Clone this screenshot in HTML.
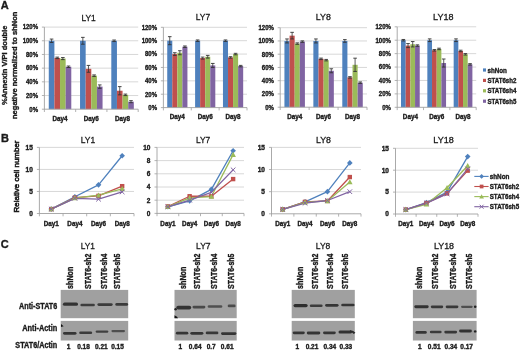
<!DOCTYPE html>
<html><head><meta charset="utf-8"><style>
html,body{margin:0;padding:0;background:#fff;}
svg{display:block;}
text{font-family:"Liberation Sans",sans-serif;fill:#1a1a1a;}
text{stroke:#1a1a1a;stroke-width:0.3px;}
text[font-weight=bold]{stroke-width:0.35px;}
svg{will-change:transform;filter:blur(0.3px);}
</style></head><body>
<svg width="520" height="351" viewBox="0 0 520 351">
<defs><filter id="bl" x="-20%" y="-80%" width="140%" height="260%"><feGaussianBlur stdDeviation="0.55"/></filter></defs>
<rect width="520" height="351" fill="#fff"/>
<line x1="44.40" y1="95.52" x2="138.20" y2="95.52" stroke="#d4d4d4" stroke-width="0.9"/>
<line x1="44.40" y1="81.83" x2="138.20" y2="81.83" stroke="#d4d4d4" stroke-width="0.9"/>
<line x1="44.40" y1="68.15" x2="138.20" y2="68.15" stroke="#d4d4d4" stroke-width="0.9"/>
<line x1="44.40" y1="54.47" x2="138.20" y2="54.47" stroke="#d4d4d4" stroke-width="0.9"/>
<line x1="44.40" y1="40.78" x2="138.20" y2="40.78" stroke="#d4d4d4" stroke-width="0.9"/>
<line x1="44.40" y1="27.10" x2="138.20" y2="27.10" stroke="#d4d4d4" stroke-width="0.9"/>
<line x1="41.90" y1="109.20" x2="44.40" y2="109.20" stroke="#a0a0a0" stroke-width="0.8"/>
<text x="38.10" y="111.50" font-size="6.5" text-anchor="end" font-weight="bold" textLength="8.74" lengthAdjust="spacingAndGlyphs">0%</text>
<line x1="41.90" y1="95.52" x2="44.40" y2="95.52" stroke="#a0a0a0" stroke-width="0.8"/>
<text x="38.10" y="97.82" font-size="6.5" text-anchor="end" font-weight="bold" textLength="12.10" lengthAdjust="spacingAndGlyphs">20%</text>
<line x1="41.90" y1="81.83" x2="44.40" y2="81.83" stroke="#a0a0a0" stroke-width="0.8"/>
<text x="38.10" y="84.13" font-size="6.5" text-anchor="end" font-weight="bold" textLength="12.10" lengthAdjust="spacingAndGlyphs">40%</text>
<line x1="41.90" y1="68.15" x2="44.40" y2="68.15" stroke="#a0a0a0" stroke-width="0.8"/>
<text x="38.10" y="70.45" font-size="6.5" text-anchor="end" font-weight="bold" textLength="12.10" lengthAdjust="spacingAndGlyphs">60%</text>
<line x1="41.90" y1="54.47" x2="44.40" y2="54.47" stroke="#a0a0a0" stroke-width="0.8"/>
<text x="38.10" y="56.77" font-size="6.5" text-anchor="end" font-weight="bold" textLength="12.10" lengthAdjust="spacingAndGlyphs">80%</text>
<line x1="41.90" y1="40.78" x2="44.40" y2="40.78" stroke="#a0a0a0" stroke-width="0.8"/>
<text x="38.10" y="43.08" font-size="6.5" text-anchor="end" font-weight="bold" textLength="15.46" lengthAdjust="spacingAndGlyphs">100%</text>
<line x1="41.90" y1="27.10" x2="44.40" y2="27.10" stroke="#a0a0a0" stroke-width="0.8"/>
<text x="38.10" y="29.40" font-size="6.5" text-anchor="end" font-weight="bold" textLength="15.46" lengthAdjust="spacingAndGlyphs">120%</text>
<rect x="48.77" y="40.78" width="5.63" height="68.42" fill="#4F81BD"/>
<rect x="54.40" y="57.89" width="5.63" height="51.31" fill="#C0504D"/>
<rect x="60.03" y="58.57" width="5.63" height="50.63" fill="#9BBB59"/>
<rect x="65.66" y="66.78" width="5.63" height="42.42" fill="#8064A2"/>
<rect x="80.04" y="40.78" width="5.63" height="68.42" fill="#4F81BD"/>
<rect x="85.67" y="68.83" width="5.63" height="40.37" fill="#C0504D"/>
<rect x="91.30" y="75.68" width="5.63" height="33.52" fill="#9BBB59"/>
<rect x="96.93" y="86.62" width="5.63" height="22.58" fill="#8064A2"/>
<rect x="111.31" y="40.78" width="5.63" height="68.42" fill="#4F81BD"/>
<rect x="116.94" y="90.73" width="5.63" height="18.47" fill="#C0504D"/>
<rect x="122.57" y="94.83" width="5.63" height="14.37" fill="#9BBB59"/>
<rect x="128.20" y="101.67" width="5.63" height="7.53" fill="#8064A2"/>
<line x1="51.59" y1="39.07" x2="51.59" y2="42.49" stroke="#333" stroke-width="0.8"/>
<line x1="49.79" y1="39.07" x2="53.39" y2="39.07" stroke="#333" stroke-width="0.9"/>
<line x1="49.79" y1="42.49" x2="53.39" y2="42.49" stroke="#333" stroke-width="0.9"/>
<line x1="57.22" y1="57.13" x2="57.22" y2="58.64" stroke="#333" stroke-width="0.8"/>
<line x1="55.42" y1="57.13" x2="59.02" y2="57.13" stroke="#333" stroke-width="0.9"/>
<line x1="55.42" y1="58.64" x2="59.02" y2="58.64" stroke="#333" stroke-width="0.9"/>
<line x1="62.85" y1="57.55" x2="62.85" y2="59.60" stroke="#333" stroke-width="0.8"/>
<line x1="61.05" y1="57.55" x2="64.65" y2="57.55" stroke="#333" stroke-width="0.9"/>
<line x1="61.05" y1="59.60" x2="64.65" y2="59.60" stroke="#333" stroke-width="0.9"/>
<line x1="68.48" y1="66.03" x2="68.48" y2="67.53" stroke="#333" stroke-width="0.8"/>
<line x1="66.68" y1="66.03" x2="70.28" y2="66.03" stroke="#333" stroke-width="0.9"/>
<line x1="66.68" y1="67.53" x2="70.28" y2="67.53" stroke="#333" stroke-width="0.9"/>
<line x1="82.85" y1="37.36" x2="82.85" y2="44.20" stroke="#333" stroke-width="0.8"/>
<line x1="81.05" y1="37.36" x2="84.65" y2="37.36" stroke="#333" stroke-width="0.9"/>
<line x1="81.05" y1="44.20" x2="84.65" y2="44.20" stroke="#333" stroke-width="0.9"/>
<line x1="88.48" y1="65.41" x2="88.48" y2="72.26" stroke="#333" stroke-width="0.8"/>
<line x1="86.68" y1="65.41" x2="90.28" y2="65.41" stroke="#333" stroke-width="0.9"/>
<line x1="86.68" y1="72.26" x2="90.28" y2="72.26" stroke="#333" stroke-width="0.9"/>
<line x1="94.11" y1="74.92" x2="94.11" y2="76.43" stroke="#333" stroke-width="0.8"/>
<line x1="92.31" y1="74.92" x2="95.91" y2="74.92" stroke="#333" stroke-width="0.9"/>
<line x1="92.31" y1="76.43" x2="95.91" y2="76.43" stroke="#333" stroke-width="0.9"/>
<line x1="99.74" y1="84.91" x2="99.74" y2="88.33" stroke="#333" stroke-width="0.8"/>
<line x1="97.94" y1="84.91" x2="101.54" y2="84.91" stroke="#333" stroke-width="0.9"/>
<line x1="97.94" y1="88.33" x2="101.54" y2="88.33" stroke="#333" stroke-width="0.9"/>
<line x1="114.12" y1="40.03" x2="114.12" y2="41.54" stroke="#333" stroke-width="0.8"/>
<line x1="112.32" y1="40.03" x2="115.92" y2="40.03" stroke="#333" stroke-width="0.9"/>
<line x1="112.32" y1="41.54" x2="115.92" y2="41.54" stroke="#333" stroke-width="0.9"/>
<line x1="119.75" y1="86.62" x2="119.75" y2="94.83" stroke="#333" stroke-width="0.8"/>
<line x1="117.95" y1="86.62" x2="121.55" y2="86.62" stroke="#333" stroke-width="0.9"/>
<line x1="117.95" y1="94.83" x2="121.55" y2="94.83" stroke="#333" stroke-width="0.9"/>
<line x1="125.38" y1="94.08" x2="125.38" y2="95.59" stroke="#333" stroke-width="0.8"/>
<line x1="123.58" y1="94.08" x2="127.18" y2="94.08" stroke="#333" stroke-width="0.9"/>
<line x1="123.58" y1="95.59" x2="127.18" y2="95.59" stroke="#333" stroke-width="0.9"/>
<line x1="131.01" y1="100.65" x2="131.01" y2="102.70" stroke="#333" stroke-width="0.8"/>
<line x1="129.21" y1="100.65" x2="132.81" y2="100.65" stroke="#333" stroke-width="0.9"/>
<line x1="129.21" y1="102.70" x2="132.81" y2="102.70" stroke="#333" stroke-width="0.9"/>
<line x1="44.40" y1="27.10" x2="44.40" y2="109.60" stroke="#a0a0a0" stroke-width="0.9"/>
<line x1="44.40" y1="109.20" x2="138.20" y2="109.20" stroke="#a0a0a0" stroke-width="0.9"/>
<line x1="44.40" y1="109.20" x2="44.40" y2="112.00" stroke="#a0a0a0" stroke-width="0.8"/>
<line x1="75.67" y1="109.20" x2="75.67" y2="112.00" stroke="#a0a0a0" stroke-width="0.8"/>
<line x1="106.93" y1="109.20" x2="106.93" y2="112.00" stroke="#a0a0a0" stroke-width="0.8"/>
<line x1="138.20" y1="109.20" x2="138.20" y2="112.00" stroke="#a0a0a0" stroke-width="0.8"/>
<text x="60.03" y="121.00" font-size="6.3" text-anchor="middle" font-weight="bold">Day4</text>
<text x="91.30" y="121.00" font-size="6.3" text-anchor="middle" font-weight="bold">Day6</text>
<text x="122.57" y="121.00" font-size="6.3" text-anchor="middle" font-weight="bold">Day8</text>
<text x="88.60" y="20.70" font-size="9.5" text-anchor="middle" textLength="14.40" lengthAdjust="spacingAndGlyphs">LY1</text>
<line x1="163.40" y1="94.22" x2="247.00" y2="94.22" stroke="#d4d4d4" stroke-width="0.9"/>
<line x1="163.40" y1="80.83" x2="247.00" y2="80.83" stroke="#d4d4d4" stroke-width="0.9"/>
<line x1="163.40" y1="67.45" x2="247.00" y2="67.45" stroke="#d4d4d4" stroke-width="0.9"/>
<line x1="163.40" y1="54.07" x2="247.00" y2="54.07" stroke="#d4d4d4" stroke-width="0.9"/>
<line x1="163.40" y1="40.68" x2="247.00" y2="40.68" stroke="#d4d4d4" stroke-width="0.9"/>
<line x1="163.40" y1="27.30" x2="247.00" y2="27.30" stroke="#d4d4d4" stroke-width="0.9"/>
<line x1="160.90" y1="107.60" x2="163.40" y2="107.60" stroke="#a0a0a0" stroke-width="0.8"/>
<text x="157.10" y="109.90" font-size="6.5" text-anchor="end" font-weight="bold" textLength="8.74" lengthAdjust="spacingAndGlyphs">0%</text>
<line x1="160.90" y1="94.22" x2="163.40" y2="94.22" stroke="#a0a0a0" stroke-width="0.8"/>
<text x="157.10" y="96.52" font-size="6.5" text-anchor="end" font-weight="bold" textLength="12.10" lengthAdjust="spacingAndGlyphs">20%</text>
<line x1="160.90" y1="80.83" x2="163.40" y2="80.83" stroke="#a0a0a0" stroke-width="0.8"/>
<text x="157.10" y="83.13" font-size="6.5" text-anchor="end" font-weight="bold" textLength="12.10" lengthAdjust="spacingAndGlyphs">40%</text>
<line x1="160.90" y1="67.45" x2="163.40" y2="67.45" stroke="#a0a0a0" stroke-width="0.8"/>
<text x="157.10" y="69.75" font-size="6.5" text-anchor="end" font-weight="bold" textLength="12.10" lengthAdjust="spacingAndGlyphs">60%</text>
<line x1="160.90" y1="54.07" x2="163.40" y2="54.07" stroke="#a0a0a0" stroke-width="0.8"/>
<text x="157.10" y="56.37" font-size="6.5" text-anchor="end" font-weight="bold" textLength="12.10" lengthAdjust="spacingAndGlyphs">80%</text>
<line x1="160.90" y1="40.68" x2="163.40" y2="40.68" stroke="#a0a0a0" stroke-width="0.8"/>
<text x="157.10" y="42.98" font-size="6.5" text-anchor="end" font-weight="bold" textLength="15.46" lengthAdjust="spacingAndGlyphs">100%</text>
<line x1="160.90" y1="27.30" x2="163.40" y2="27.30" stroke="#a0a0a0" stroke-width="0.8"/>
<text x="157.10" y="29.60" font-size="6.5" text-anchor="end" font-weight="bold" textLength="15.46" lengthAdjust="spacingAndGlyphs">120%</text>
<rect x="167.23" y="40.68" width="5.05" height="66.92" fill="#4F81BD"/>
<rect x="172.28" y="54.07" width="5.05" height="53.53" fill="#C0504D"/>
<rect x="177.33" y="52.73" width="5.05" height="54.87" fill="#9BBB59"/>
<rect x="182.38" y="46.71" width="5.05" height="60.89" fill="#8064A2"/>
<rect x="195.10" y="40.68" width="5.05" height="66.92" fill="#4F81BD"/>
<rect x="200.15" y="58.08" width="5.05" height="49.52" fill="#C0504D"/>
<rect x="205.20" y="56.74" width="5.05" height="50.86" fill="#9BBB59"/>
<rect x="210.25" y="65.44" width="5.05" height="42.16" fill="#8064A2"/>
<rect x="222.97" y="40.68" width="5.05" height="66.92" fill="#4F81BD"/>
<rect x="228.02" y="57.41" width="5.05" height="50.19" fill="#C0504D"/>
<rect x="233.07" y="54.07" width="5.05" height="53.53" fill="#9BBB59"/>
<rect x="238.12" y="66.11" width="5.05" height="41.49" fill="#8064A2"/>
<line x1="169.76" y1="36.67" x2="169.76" y2="44.70" stroke="#333" stroke-width="0.8"/>
<line x1="167.96" y1="36.67" x2="171.56" y2="36.67" stroke="#333" stroke-width="0.9"/>
<line x1="167.96" y1="44.70" x2="171.56" y2="44.70" stroke="#333" stroke-width="0.9"/>
<line x1="174.81" y1="52.73" x2="174.81" y2="55.40" stroke="#333" stroke-width="0.8"/>
<line x1="173.01" y1="52.73" x2="176.61" y2="52.73" stroke="#333" stroke-width="0.9"/>
<line x1="173.01" y1="55.40" x2="176.61" y2="55.40" stroke="#333" stroke-width="0.9"/>
<line x1="179.86" y1="50.72" x2="179.86" y2="54.74" stroke="#333" stroke-width="0.8"/>
<line x1="178.06" y1="50.72" x2="181.66" y2="50.72" stroke="#333" stroke-width="0.9"/>
<line x1="178.06" y1="54.74" x2="181.66" y2="54.74" stroke="#333" stroke-width="0.9"/>
<line x1="184.91" y1="45.97" x2="184.91" y2="47.44" stroke="#333" stroke-width="0.8"/>
<line x1="183.11" y1="45.97" x2="186.71" y2="45.97" stroke="#333" stroke-width="0.9"/>
<line x1="183.11" y1="47.44" x2="186.71" y2="47.44" stroke="#333" stroke-width="0.9"/>
<line x1="197.63" y1="39.95" x2="197.63" y2="41.42" stroke="#333" stroke-width="0.8"/>
<line x1="195.83" y1="39.95" x2="199.43" y2="39.95" stroke="#333" stroke-width="0.9"/>
<line x1="195.83" y1="41.42" x2="199.43" y2="41.42" stroke="#333" stroke-width="0.9"/>
<line x1="202.68" y1="57.08" x2="202.68" y2="59.09" stroke="#333" stroke-width="0.8"/>
<line x1="200.88" y1="57.08" x2="204.48" y2="57.08" stroke="#333" stroke-width="0.9"/>
<line x1="200.88" y1="59.09" x2="204.48" y2="59.09" stroke="#333" stroke-width="0.9"/>
<line x1="207.73" y1="55.40" x2="207.73" y2="58.08" stroke="#333" stroke-width="0.8"/>
<line x1="205.93" y1="55.40" x2="209.53" y2="55.40" stroke="#333" stroke-width="0.9"/>
<line x1="205.93" y1="58.08" x2="209.53" y2="58.08" stroke="#333" stroke-width="0.9"/>
<line x1="212.78" y1="63.43" x2="212.78" y2="67.45" stroke="#333" stroke-width="0.8"/>
<line x1="210.98" y1="63.43" x2="214.58" y2="63.43" stroke="#333" stroke-width="0.9"/>
<line x1="210.98" y1="67.45" x2="214.58" y2="67.45" stroke="#333" stroke-width="0.9"/>
<line x1="225.49" y1="39.95" x2="225.49" y2="41.42" stroke="#333" stroke-width="0.8"/>
<line x1="223.69" y1="39.95" x2="227.29" y2="39.95" stroke="#333" stroke-width="0.9"/>
<line x1="223.69" y1="41.42" x2="227.29" y2="41.42" stroke="#333" stroke-width="0.9"/>
<line x1="230.54" y1="56.68" x2="230.54" y2="58.15" stroke="#333" stroke-width="0.8"/>
<line x1="228.74" y1="56.68" x2="232.34" y2="56.68" stroke="#333" stroke-width="0.9"/>
<line x1="228.74" y1="58.15" x2="232.34" y2="58.15" stroke="#333" stroke-width="0.9"/>
<line x1="235.59" y1="53.33" x2="235.59" y2="54.80" stroke="#333" stroke-width="0.8"/>
<line x1="233.79" y1="53.33" x2="237.39" y2="53.33" stroke="#333" stroke-width="0.9"/>
<line x1="233.79" y1="54.80" x2="237.39" y2="54.80" stroke="#333" stroke-width="0.9"/>
<line x1="240.64" y1="65.38" x2="240.64" y2="66.85" stroke="#333" stroke-width="0.8"/>
<line x1="238.84" y1="65.38" x2="242.44" y2="65.38" stroke="#333" stroke-width="0.9"/>
<line x1="238.84" y1="66.85" x2="242.44" y2="66.85" stroke="#333" stroke-width="0.9"/>
<line x1="163.40" y1="27.30" x2="163.40" y2="108.00" stroke="#a0a0a0" stroke-width="0.9"/>
<line x1="163.40" y1="107.60" x2="247.00" y2="107.60" stroke="#a0a0a0" stroke-width="0.9"/>
<line x1="163.40" y1="107.60" x2="163.40" y2="110.40" stroke="#a0a0a0" stroke-width="0.8"/>
<line x1="191.27" y1="107.60" x2="191.27" y2="110.40" stroke="#a0a0a0" stroke-width="0.8"/>
<line x1="219.13" y1="107.60" x2="219.13" y2="110.40" stroke="#a0a0a0" stroke-width="0.8"/>
<line x1="247.00" y1="107.60" x2="247.00" y2="110.40" stroke="#a0a0a0" stroke-width="0.8"/>
<text x="177.33" y="119.40" font-size="6.3" text-anchor="middle" font-weight="bold">Day4</text>
<text x="205.20" y="119.40" font-size="6.3" text-anchor="middle" font-weight="bold">Day6</text>
<text x="233.07" y="119.40" font-size="6.3" text-anchor="middle" font-weight="bold">Day8</text>
<text x="202.90" y="20.00" font-size="9.5" text-anchor="middle" textLength="14.30" lengthAdjust="spacingAndGlyphs">LY7</text>
<line x1="280.20" y1="93.95" x2="367.00" y2="93.95" stroke="#d4d4d4" stroke-width="0.9"/>
<line x1="280.20" y1="80.70" x2="367.00" y2="80.70" stroke="#d4d4d4" stroke-width="0.9"/>
<line x1="280.20" y1="67.45" x2="367.00" y2="67.45" stroke="#d4d4d4" stroke-width="0.9"/>
<line x1="280.20" y1="54.20" x2="367.00" y2="54.20" stroke="#d4d4d4" stroke-width="0.9"/>
<line x1="280.20" y1="40.95" x2="367.00" y2="40.95" stroke="#d4d4d4" stroke-width="0.9"/>
<line x1="280.20" y1="27.70" x2="367.00" y2="27.70" stroke="#d4d4d4" stroke-width="0.9"/>
<line x1="277.70" y1="107.20" x2="280.20" y2="107.20" stroke="#a0a0a0" stroke-width="0.8"/>
<text x="273.90" y="109.50" font-size="6.5" text-anchor="end" font-weight="bold" textLength="8.74" lengthAdjust="spacingAndGlyphs">0%</text>
<line x1="277.70" y1="93.95" x2="280.20" y2="93.95" stroke="#a0a0a0" stroke-width="0.8"/>
<text x="273.90" y="96.25" font-size="6.5" text-anchor="end" font-weight="bold" textLength="12.10" lengthAdjust="spacingAndGlyphs">20%</text>
<line x1="277.70" y1="80.70" x2="280.20" y2="80.70" stroke="#a0a0a0" stroke-width="0.8"/>
<text x="273.90" y="83.00" font-size="6.5" text-anchor="end" font-weight="bold" textLength="12.10" lengthAdjust="spacingAndGlyphs">40%</text>
<line x1="277.70" y1="67.45" x2="280.20" y2="67.45" stroke="#a0a0a0" stroke-width="0.8"/>
<text x="273.90" y="69.75" font-size="6.5" text-anchor="end" font-weight="bold" textLength="12.10" lengthAdjust="spacingAndGlyphs">60%</text>
<line x1="277.70" y1="54.20" x2="280.20" y2="54.20" stroke="#a0a0a0" stroke-width="0.8"/>
<text x="273.90" y="56.50" font-size="6.5" text-anchor="end" font-weight="bold" textLength="12.10" lengthAdjust="spacingAndGlyphs">80%</text>
<line x1="277.70" y1="40.95" x2="280.20" y2="40.95" stroke="#a0a0a0" stroke-width="0.8"/>
<text x="273.90" y="43.25" font-size="6.5" text-anchor="end" font-weight="bold" textLength="15.46" lengthAdjust="spacingAndGlyphs">100%</text>
<line x1="277.70" y1="27.70" x2="280.20" y2="27.70" stroke="#a0a0a0" stroke-width="0.8"/>
<text x="273.90" y="30.00" font-size="6.5" text-anchor="end" font-weight="bold" textLength="15.46" lengthAdjust="spacingAndGlyphs">120%</text>
<rect x="284.43" y="40.95" width="5.12" height="66.25" fill="#4F81BD"/>
<rect x="289.55" y="35.65" width="5.12" height="71.55" fill="#C0504D"/>
<rect x="294.67" y="43.60" width="5.12" height="63.60" fill="#9BBB59"/>
<rect x="299.79" y="41.61" width="5.12" height="65.59" fill="#8064A2"/>
<rect x="313.36" y="40.95" width="5.12" height="66.25" fill="#4F81BD"/>
<rect x="318.48" y="58.84" width="5.12" height="48.36" fill="#C0504D"/>
<rect x="323.60" y="60.16" width="5.12" height="47.04" fill="#9BBB59"/>
<rect x="328.72" y="70.76" width="5.12" height="36.44" fill="#8064A2"/>
<rect x="342.29" y="40.95" width="5.12" height="66.25" fill="#4F81BD"/>
<rect x="347.41" y="77.39" width="5.12" height="29.81" fill="#C0504D"/>
<rect x="352.53" y="64.80" width="5.12" height="42.40" fill="#9BBB59"/>
<rect x="357.65" y="82.69" width="5.12" height="24.51" fill="#8064A2"/>
<line x1="286.99" y1="38.96" x2="286.99" y2="42.94" stroke="#333" stroke-width="0.8"/>
<line x1="285.19" y1="38.96" x2="288.79" y2="38.96" stroke="#333" stroke-width="0.9"/>
<line x1="285.19" y1="42.94" x2="288.79" y2="42.94" stroke="#333" stroke-width="0.9"/>
<line x1="292.11" y1="32.34" x2="292.11" y2="38.96" stroke="#333" stroke-width="0.8"/>
<line x1="290.31" y1="32.34" x2="293.91" y2="32.34" stroke="#333" stroke-width="0.9"/>
<line x1="290.31" y1="38.96" x2="293.91" y2="38.96" stroke="#333" stroke-width="0.9"/>
<line x1="297.23" y1="42.87" x2="297.23" y2="44.33" stroke="#333" stroke-width="0.8"/>
<line x1="295.43" y1="42.87" x2="299.03" y2="42.87" stroke="#333" stroke-width="0.9"/>
<line x1="295.43" y1="44.33" x2="299.03" y2="44.33" stroke="#333" stroke-width="0.9"/>
<line x1="302.35" y1="40.88" x2="302.35" y2="42.34" stroke="#333" stroke-width="0.8"/>
<line x1="300.55" y1="40.88" x2="304.15" y2="40.88" stroke="#333" stroke-width="0.9"/>
<line x1="300.55" y1="42.34" x2="304.15" y2="42.34" stroke="#333" stroke-width="0.9"/>
<line x1="315.92" y1="38.96" x2="315.92" y2="42.94" stroke="#333" stroke-width="0.8"/>
<line x1="314.12" y1="38.96" x2="317.72" y2="38.96" stroke="#333" stroke-width="0.9"/>
<line x1="314.12" y1="42.94" x2="317.72" y2="42.94" stroke="#333" stroke-width="0.9"/>
<line x1="321.04" y1="58.11" x2="321.04" y2="59.57" stroke="#333" stroke-width="0.8"/>
<line x1="319.24" y1="58.11" x2="322.84" y2="58.11" stroke="#333" stroke-width="0.9"/>
<line x1="319.24" y1="59.57" x2="322.84" y2="59.57" stroke="#333" stroke-width="0.9"/>
<line x1="326.16" y1="59.43" x2="326.16" y2="60.89" stroke="#333" stroke-width="0.8"/>
<line x1="324.36" y1="59.43" x2="327.96" y2="59.43" stroke="#333" stroke-width="0.9"/>
<line x1="324.36" y1="60.89" x2="327.96" y2="60.89" stroke="#333" stroke-width="0.9"/>
<line x1="331.28" y1="68.78" x2="331.28" y2="72.75" stroke="#333" stroke-width="0.8"/>
<line x1="329.48" y1="68.78" x2="333.08" y2="68.78" stroke="#333" stroke-width="0.9"/>
<line x1="329.48" y1="72.75" x2="333.08" y2="72.75" stroke="#333" stroke-width="0.9"/>
<line x1="344.85" y1="39.62" x2="344.85" y2="42.28" stroke="#333" stroke-width="0.8"/>
<line x1="343.05" y1="39.62" x2="346.65" y2="39.62" stroke="#333" stroke-width="0.9"/>
<line x1="343.05" y1="42.28" x2="346.65" y2="42.28" stroke="#333" stroke-width="0.9"/>
<line x1="349.97" y1="76.66" x2="349.97" y2="78.12" stroke="#333" stroke-width="0.8"/>
<line x1="348.17" y1="76.66" x2="351.77" y2="76.66" stroke="#333" stroke-width="0.9"/>
<line x1="348.17" y1="78.12" x2="351.77" y2="78.12" stroke="#333" stroke-width="0.9"/>
<line x1="355.09" y1="58.18" x2="355.09" y2="71.43" stroke="#333" stroke-width="0.8"/>
<line x1="353.29" y1="58.18" x2="356.89" y2="58.18" stroke="#333" stroke-width="0.9"/>
<line x1="353.29" y1="71.43" x2="356.89" y2="71.43" stroke="#333" stroke-width="0.9"/>
<line x1="360.21" y1="81.96" x2="360.21" y2="83.42" stroke="#333" stroke-width="0.8"/>
<line x1="358.41" y1="81.96" x2="362.01" y2="81.96" stroke="#333" stroke-width="0.9"/>
<line x1="358.41" y1="83.42" x2="362.01" y2="83.42" stroke="#333" stroke-width="0.9"/>
<line x1="280.20" y1="27.70" x2="280.20" y2="107.60" stroke="#a0a0a0" stroke-width="0.9"/>
<line x1="280.20" y1="107.20" x2="367.00" y2="107.20" stroke="#a0a0a0" stroke-width="0.9"/>
<line x1="280.20" y1="107.20" x2="280.20" y2="110.00" stroke="#a0a0a0" stroke-width="0.8"/>
<line x1="309.13" y1="107.20" x2="309.13" y2="110.00" stroke="#a0a0a0" stroke-width="0.8"/>
<line x1="338.07" y1="107.20" x2="338.07" y2="110.00" stroke="#a0a0a0" stroke-width="0.8"/>
<line x1="367.00" y1="107.20" x2="367.00" y2="110.00" stroke="#a0a0a0" stroke-width="0.8"/>
<text x="294.67" y="119.00" font-size="6.3" text-anchor="middle" font-weight="bold">Day4</text>
<text x="323.60" y="119.00" font-size="6.3" text-anchor="middle" font-weight="bold">Day6</text>
<text x="352.53" y="119.00" font-size="6.3" text-anchor="middle" font-weight="bold">Day8</text>
<text x="323.30" y="20.00" font-size="9.5" text-anchor="middle" textLength="15.00" lengthAdjust="spacingAndGlyphs">LY8</text>
<line x1="397.20" y1="93.88" x2="476.20" y2="93.88" stroke="#d4d4d4" stroke-width="0.9"/>
<line x1="397.20" y1="80.47" x2="476.20" y2="80.47" stroke="#d4d4d4" stroke-width="0.9"/>
<line x1="397.20" y1="67.05" x2="476.20" y2="67.05" stroke="#d4d4d4" stroke-width="0.9"/>
<line x1="397.20" y1="53.63" x2="476.20" y2="53.63" stroke="#d4d4d4" stroke-width="0.9"/>
<line x1="397.20" y1="40.22" x2="476.20" y2="40.22" stroke="#d4d4d4" stroke-width="0.9"/>
<line x1="397.20" y1="26.80" x2="476.20" y2="26.80" stroke="#d4d4d4" stroke-width="0.9"/>
<line x1="394.70" y1="107.30" x2="397.20" y2="107.30" stroke="#a0a0a0" stroke-width="0.8"/>
<text x="390.90" y="109.60" font-size="6.5" text-anchor="end" font-weight="bold" textLength="8.74" lengthAdjust="spacingAndGlyphs">0%</text>
<line x1="394.70" y1="93.88" x2="397.20" y2="93.88" stroke="#a0a0a0" stroke-width="0.8"/>
<text x="390.90" y="96.18" font-size="6.5" text-anchor="end" font-weight="bold" textLength="12.10" lengthAdjust="spacingAndGlyphs">20%</text>
<line x1="394.70" y1="80.47" x2="397.20" y2="80.47" stroke="#a0a0a0" stroke-width="0.8"/>
<text x="390.90" y="82.77" font-size="6.5" text-anchor="end" font-weight="bold" textLength="12.10" lengthAdjust="spacingAndGlyphs">40%</text>
<line x1="394.70" y1="67.05" x2="397.20" y2="67.05" stroke="#a0a0a0" stroke-width="0.8"/>
<text x="390.90" y="69.35" font-size="6.5" text-anchor="end" font-weight="bold" textLength="12.10" lengthAdjust="spacingAndGlyphs">60%</text>
<line x1="394.70" y1="53.63" x2="397.20" y2="53.63" stroke="#a0a0a0" stroke-width="0.8"/>
<text x="390.90" y="55.93" font-size="6.5" text-anchor="end" font-weight="bold" textLength="12.10" lengthAdjust="spacingAndGlyphs">80%</text>
<line x1="394.70" y1="40.22" x2="397.20" y2="40.22" stroke="#a0a0a0" stroke-width="0.8"/>
<text x="390.90" y="42.52" font-size="6.5" text-anchor="end" font-weight="bold" textLength="15.46" lengthAdjust="spacingAndGlyphs">100%</text>
<line x1="394.70" y1="26.80" x2="397.20" y2="26.80" stroke="#a0a0a0" stroke-width="0.8"/>
<text x="390.90" y="29.10" font-size="6.5" text-anchor="end" font-weight="bold" textLength="15.46" lengthAdjust="spacingAndGlyphs">120%</text>
<rect x="401.01" y="40.22" width="4.68" height="67.08" fill="#4F81BD"/>
<rect x="405.69" y="45.58" width="4.68" height="61.72" fill="#C0504D"/>
<rect x="410.37" y="44.24" width="4.68" height="63.06" fill="#9BBB59"/>
<rect x="415.05" y="45.58" width="4.68" height="61.72" fill="#8064A2"/>
<rect x="427.34" y="40.22" width="4.68" height="67.08" fill="#4F81BD"/>
<rect x="432.02" y="50.28" width="4.68" height="57.02" fill="#C0504D"/>
<rect x="436.70" y="48.94" width="4.68" height="58.36" fill="#9BBB59"/>
<rect x="441.38" y="63.02" width="4.68" height="44.27" fill="#8064A2"/>
<rect x="453.67" y="40.22" width="4.68" height="67.08" fill="#4F81BD"/>
<rect x="458.35" y="50.95" width="4.68" height="56.35" fill="#C0504D"/>
<rect x="463.03" y="54.30" width="4.68" height="53.00" fill="#9BBB59"/>
<rect x="467.71" y="64.37" width="4.68" height="42.93" fill="#8064A2"/>
<line x1="403.35" y1="39.48" x2="403.35" y2="40.95" stroke="#333" stroke-width="0.8"/>
<line x1="401.55" y1="39.48" x2="405.15" y2="39.48" stroke="#333" stroke-width="0.9"/>
<line x1="401.55" y1="40.95" x2="405.15" y2="40.95" stroke="#333" stroke-width="0.9"/>
<line x1="408.03" y1="43.57" x2="408.03" y2="47.60" stroke="#333" stroke-width="0.8"/>
<line x1="406.23" y1="43.57" x2="409.83" y2="43.57" stroke="#333" stroke-width="0.9"/>
<line x1="406.23" y1="47.60" x2="409.83" y2="47.60" stroke="#333" stroke-width="0.9"/>
<line x1="412.71" y1="41.56" x2="412.71" y2="46.93" stroke="#333" stroke-width="0.8"/>
<line x1="410.91" y1="41.56" x2="414.51" y2="41.56" stroke="#333" stroke-width="0.9"/>
<line x1="410.91" y1="46.93" x2="414.51" y2="46.93" stroke="#333" stroke-width="0.9"/>
<line x1="417.39" y1="44.85" x2="417.39" y2="46.32" stroke="#333" stroke-width="0.8"/>
<line x1="415.59" y1="44.85" x2="419.19" y2="44.85" stroke="#333" stroke-width="0.9"/>
<line x1="415.59" y1="46.32" x2="419.19" y2="46.32" stroke="#333" stroke-width="0.9"/>
<line x1="429.68" y1="38.88" x2="429.68" y2="41.56" stroke="#333" stroke-width="0.8"/>
<line x1="427.88" y1="38.88" x2="431.48" y2="38.88" stroke="#333" stroke-width="0.9"/>
<line x1="427.88" y1="41.56" x2="431.48" y2="41.56" stroke="#333" stroke-width="0.9"/>
<line x1="434.36" y1="49.54" x2="434.36" y2="51.02" stroke="#333" stroke-width="0.8"/>
<line x1="432.56" y1="49.54" x2="436.16" y2="49.54" stroke="#333" stroke-width="0.9"/>
<line x1="432.56" y1="51.02" x2="436.16" y2="51.02" stroke="#333" stroke-width="0.9"/>
<line x1="439.04" y1="48.20" x2="439.04" y2="49.68" stroke="#333" stroke-width="0.8"/>
<line x1="437.24" y1="48.20" x2="440.84" y2="48.20" stroke="#333" stroke-width="0.9"/>
<line x1="437.24" y1="49.68" x2="440.84" y2="49.68" stroke="#333" stroke-width="0.9"/>
<line x1="443.72" y1="59.00" x2="443.72" y2="67.05" stroke="#333" stroke-width="0.8"/>
<line x1="441.92" y1="59.00" x2="445.52" y2="59.00" stroke="#333" stroke-width="0.9"/>
<line x1="441.92" y1="67.05" x2="445.52" y2="67.05" stroke="#333" stroke-width="0.9"/>
<line x1="456.01" y1="38.88" x2="456.01" y2="41.56" stroke="#333" stroke-width="0.8"/>
<line x1="454.21" y1="38.88" x2="457.81" y2="38.88" stroke="#333" stroke-width="0.9"/>
<line x1="454.21" y1="41.56" x2="457.81" y2="41.56" stroke="#333" stroke-width="0.9"/>
<line x1="460.69" y1="50.21" x2="460.69" y2="51.69" stroke="#333" stroke-width="0.8"/>
<line x1="458.89" y1="50.21" x2="462.49" y2="50.21" stroke="#333" stroke-width="0.9"/>
<line x1="458.89" y1="51.69" x2="462.49" y2="51.69" stroke="#333" stroke-width="0.9"/>
<line x1="465.37" y1="53.57" x2="465.37" y2="55.04" stroke="#333" stroke-width="0.8"/>
<line x1="463.57" y1="53.57" x2="467.17" y2="53.57" stroke="#333" stroke-width="0.9"/>
<line x1="463.57" y1="55.04" x2="467.17" y2="55.04" stroke="#333" stroke-width="0.9"/>
<line x1="470.05" y1="63.63" x2="470.05" y2="65.10" stroke="#333" stroke-width="0.8"/>
<line x1="468.25" y1="63.63" x2="471.85" y2="63.63" stroke="#333" stroke-width="0.9"/>
<line x1="468.25" y1="65.10" x2="471.85" y2="65.10" stroke="#333" stroke-width="0.9"/>
<line x1="397.20" y1="26.80" x2="397.20" y2="107.70" stroke="#a0a0a0" stroke-width="0.9"/>
<line x1="397.20" y1="107.30" x2="476.20" y2="107.30" stroke="#a0a0a0" stroke-width="0.9"/>
<line x1="397.20" y1="107.30" x2="397.20" y2="110.10" stroke="#a0a0a0" stroke-width="0.8"/>
<line x1="423.53" y1="107.30" x2="423.53" y2="110.10" stroke="#a0a0a0" stroke-width="0.8"/>
<line x1="449.87" y1="107.30" x2="449.87" y2="110.10" stroke="#a0a0a0" stroke-width="0.8"/>
<line x1="476.20" y1="107.30" x2="476.20" y2="110.10" stroke="#a0a0a0" stroke-width="0.8"/>
<text x="410.37" y="119.10" font-size="6.3" text-anchor="middle" font-weight="bold">Day4</text>
<text x="436.70" y="119.10" font-size="6.3" text-anchor="middle" font-weight="bold">Day6</text>
<text x="463.03" y="119.10" font-size="6.3" text-anchor="middle" font-weight="bold">Day8</text>
<text x="443.30" y="20.00" font-size="9.5" text-anchor="middle" textLength="20.40" lengthAdjust="spacingAndGlyphs">LY18</text>
<text x="7.40" y="65.30" font-size="8" text-anchor="middle" font-weight="bold" textLength="79.50" lengthAdjust="spacingAndGlyphs" transform="rotate(-90 7.40 65.30)">%Annexin V/PI double</text>
<text x="17.30" y="65.30" font-size="8" text-anchor="middle" font-weight="bold" textLength="107.50" lengthAdjust="spacingAndGlyphs" transform="rotate(-90 17.30 65.30)">negative normalized to shNon</text>
<text x="0.80" y="8.60" font-size="11" text-anchor="start" font-weight="bold" fill="#000">A</text>
<rect x="483.00" y="68.40" width="3.00" height="3.20" fill="#4F81BD"/>
<text x="487.40" y="72.50" font-size="7" text-anchor="start" font-weight="bold" textLength="19.50" lengthAdjust="spacingAndGlyphs">shNon</text>
<rect x="483.00" y="78.80" width="3.00" height="3.20" fill="#C0504D"/>
<text x="487.40" y="82.90" font-size="7" text-anchor="start" font-weight="bold" textLength="29.00" lengthAdjust="spacingAndGlyphs">STAT6sh2</text>
<rect x="483.00" y="89.20" width="3.00" height="3.20" fill="#9BBB59"/>
<text x="487.40" y="93.30" font-size="7" text-anchor="start" font-weight="bold" textLength="29.00" lengthAdjust="spacingAndGlyphs">STAT6sh4</text>
<rect x="483.00" y="99.60" width="3.00" height="3.20" fill="#8064A2"/>
<text x="487.40" y="103.70" font-size="7" text-anchor="start" font-weight="bold" textLength="29.00" lengthAdjust="spacingAndGlyphs">STAT6sh5</text>
<line x1="39.40" y1="191.47" x2="134.00" y2="191.47" stroke="#d4d4d4" stroke-width="0.9"/>
<line x1="39.40" y1="169.43" x2="134.00" y2="169.43" stroke="#d4d4d4" stroke-width="0.9"/>
<line x1="39.40" y1="147.40" x2="134.00" y2="147.40" stroke="#d4d4d4" stroke-width="0.9"/>
<line x1="36.90" y1="213.50" x2="39.40" y2="213.50" stroke="#a0a0a0" stroke-width="0.8"/>
<text x="32.80" y="215.80" font-size="6.5" text-anchor="end" font-weight="bold">0</text>
<line x1="36.90" y1="191.47" x2="39.40" y2="191.47" stroke="#a0a0a0" stroke-width="0.8"/>
<text x="32.80" y="193.77" font-size="6.5" text-anchor="end" font-weight="bold">5</text>
<line x1="36.90" y1="169.43" x2="39.40" y2="169.43" stroke="#a0a0a0" stroke-width="0.8"/>
<text x="32.80" y="171.73" font-size="6.5" text-anchor="end" font-weight="bold">10</text>
<line x1="36.90" y1="147.40" x2="39.40" y2="147.40" stroke="#a0a0a0" stroke-width="0.8"/>
<text x="32.80" y="149.70" font-size="6.5" text-anchor="end" font-weight="bold">15</text>
<line x1="39.40" y1="147.40" x2="39.40" y2="213.90" stroke="#a0a0a0" stroke-width="0.9"/>
<line x1="39.40" y1="213.50" x2="134.00" y2="213.50" stroke="#a0a0a0" stroke-width="0.9"/>
<line x1="39.40" y1="213.50" x2="39.40" y2="216.30" stroke="#a0a0a0" stroke-width="0.8"/>
<line x1="63.05" y1="213.50" x2="63.05" y2="216.30" stroke="#a0a0a0" stroke-width="0.8"/>
<line x1="86.70" y1="213.50" x2="86.70" y2="216.30" stroke="#a0a0a0" stroke-width="0.8"/>
<line x1="110.35" y1="213.50" x2="110.35" y2="216.30" stroke="#a0a0a0" stroke-width="0.8"/>
<line x1="134.00" y1="213.50" x2="134.00" y2="216.30" stroke="#a0a0a0" stroke-width="0.8"/>
<text x="51.22" y="225.70" font-size="6.3" text-anchor="middle" font-weight="bold">Day1</text>
<text x="74.88" y="225.70" font-size="6.3" text-anchor="middle" font-weight="bold">Day4</text>
<text x="98.53" y="225.70" font-size="6.3" text-anchor="middle" font-weight="bold">Day6</text>
<text x="122.17" y="225.70" font-size="6.3" text-anchor="middle" font-weight="bold">Day8</text>
<polyline points="51.22,209.09 74.88,196.75 98.53,184.86 122.17,155.77" fill="none" stroke="#4F81BD" stroke-width="1.3" stroke-linejoin="round"/>
<polyline points="51.22,209.09 74.88,197.64 98.53,195.87 122.17,186.18" fill="none" stroke="#C0504D" stroke-width="1.3" stroke-linejoin="round"/>
<polyline points="51.22,209.09 74.88,198.08 98.53,195.21 122.17,188.82" fill="none" stroke="#9BBB59" stroke-width="1.3" stroke-linejoin="round"/>
<polyline points="51.22,209.09 74.88,198.30 98.53,199.18 122.17,191.91" fill="none" stroke="#8064A2" stroke-width="1.3" stroke-linejoin="round"/>
<path d="M51.22 206.29L54.02 209.09L51.22 211.89L48.42 209.09Z" fill="#4F81BD"/>
<path d="M74.88 193.95L77.67 196.75L74.88 199.55L72.08 196.75Z" fill="#4F81BD"/>
<path d="M98.53 182.06L101.33 184.86L98.53 187.66L95.73 184.86Z" fill="#4F81BD"/>
<path d="M122.17 152.97L124.97 155.77L122.17 158.57L119.37 155.77Z" fill="#4F81BD"/>
<rect x="49.02" y="206.89" width="4.40" height="4.40" fill="#C0504D"/>
<rect x="72.67" y="195.44" width="4.40" height="4.40" fill="#C0504D"/>
<rect x="96.33" y="193.67" width="4.40" height="4.40" fill="#C0504D"/>
<rect x="119.97" y="183.98" width="4.40" height="4.40" fill="#C0504D"/>
<path d="M51.22 206.29L54.02 211.33L48.42 211.33Z" fill="#9BBB59"/>
<path d="M74.88 195.28L77.67 200.32L72.08 200.32Z" fill="#9BBB59"/>
<path d="M98.53 192.41L101.33 197.45L95.73 197.45Z" fill="#9BBB59"/>
<path d="M122.17 186.02L124.97 191.06L119.37 191.06Z" fill="#9BBB59"/>
<line x1="48.92" y1="206.79" x2="53.52" y2="211.39" stroke="#8064A2" stroke-width="1.0"/>
<line x1="48.92" y1="211.39" x2="53.52" y2="206.79" stroke="#8064A2" stroke-width="1.0"/>
<line x1="72.58" y1="196.00" x2="77.17" y2="200.60" stroke="#8064A2" stroke-width="1.0"/>
<line x1="72.58" y1="200.60" x2="77.17" y2="196.00" stroke="#8064A2" stroke-width="1.0"/>
<line x1="96.23" y1="196.88" x2="100.83" y2="201.48" stroke="#8064A2" stroke-width="1.0"/>
<line x1="96.23" y1="201.48" x2="100.83" y2="196.88" stroke="#8064A2" stroke-width="1.0"/>
<line x1="119.87" y1="189.61" x2="124.47" y2="194.21" stroke="#8064A2" stroke-width="1.0"/>
<line x1="119.87" y1="194.21" x2="124.47" y2="189.61" stroke="#8064A2" stroke-width="1.0"/>
<text x="87.90" y="142.60" font-size="9.5" text-anchor="middle" textLength="14.40" lengthAdjust="spacingAndGlyphs">LY1</text>
<line x1="157.00" y1="200.20" x2="244.00" y2="200.20" stroke="#d4d4d4" stroke-width="0.9"/>
<line x1="157.00" y1="187.00" x2="244.00" y2="187.00" stroke="#d4d4d4" stroke-width="0.9"/>
<line x1="157.00" y1="173.80" x2="244.00" y2="173.80" stroke="#d4d4d4" stroke-width="0.9"/>
<line x1="157.00" y1="160.60" x2="244.00" y2="160.60" stroke="#d4d4d4" stroke-width="0.9"/>
<line x1="157.00" y1="147.40" x2="244.00" y2="147.40" stroke="#d4d4d4" stroke-width="0.9"/>
<line x1="154.50" y1="213.40" x2="157.00" y2="213.40" stroke="#a0a0a0" stroke-width="0.8"/>
<text x="150.40" y="215.70" font-size="6.5" text-anchor="end" font-weight="bold">0</text>
<line x1="154.50" y1="200.20" x2="157.00" y2="200.20" stroke="#a0a0a0" stroke-width="0.8"/>
<text x="150.40" y="202.50" font-size="6.5" text-anchor="end" font-weight="bold">2</text>
<line x1="154.50" y1="187.00" x2="157.00" y2="187.00" stroke="#a0a0a0" stroke-width="0.8"/>
<text x="150.40" y="189.30" font-size="6.5" text-anchor="end" font-weight="bold">4</text>
<line x1="154.50" y1="173.80" x2="157.00" y2="173.80" stroke="#a0a0a0" stroke-width="0.8"/>
<text x="150.40" y="176.10" font-size="6.5" text-anchor="end" font-weight="bold">6</text>
<line x1="154.50" y1="160.60" x2="157.00" y2="160.60" stroke="#a0a0a0" stroke-width="0.8"/>
<text x="150.40" y="162.90" font-size="6.5" text-anchor="end" font-weight="bold">8</text>
<line x1="154.50" y1="147.40" x2="157.00" y2="147.40" stroke="#a0a0a0" stroke-width="0.8"/>
<text x="150.40" y="149.70" font-size="6.5" text-anchor="end" font-weight="bold">10</text>
<line x1="157.00" y1="147.40" x2="157.00" y2="213.80" stroke="#a0a0a0" stroke-width="0.9"/>
<line x1="157.00" y1="213.40" x2="244.00" y2="213.40" stroke="#a0a0a0" stroke-width="0.9"/>
<line x1="157.00" y1="213.40" x2="157.00" y2="216.20" stroke="#a0a0a0" stroke-width="0.8"/>
<line x1="178.75" y1="213.40" x2="178.75" y2="216.20" stroke="#a0a0a0" stroke-width="0.8"/>
<line x1="200.50" y1="213.40" x2="200.50" y2="216.20" stroke="#a0a0a0" stroke-width="0.8"/>
<line x1="222.25" y1="213.40" x2="222.25" y2="216.20" stroke="#a0a0a0" stroke-width="0.8"/>
<line x1="244.00" y1="213.40" x2="244.00" y2="216.20" stroke="#a0a0a0" stroke-width="0.8"/>
<text x="167.88" y="225.60" font-size="6.3" text-anchor="middle" font-weight="bold">Day1</text>
<text x="189.62" y="225.60" font-size="6.3" text-anchor="middle" font-weight="bold">Day4</text>
<text x="211.38" y="225.60" font-size="6.3" text-anchor="middle" font-weight="bold">Day6</text>
<text x="233.12" y="225.60" font-size="6.3" text-anchor="middle" font-weight="bold">Day8</text>
<polyline points="167.88,206.80 189.62,200.86 211.38,189.31 233.12,150.70" fill="none" stroke="#4F81BD" stroke-width="1.3" stroke-linejoin="round"/>
<polyline points="167.88,206.47 189.62,196.24 211.38,196.24 233.12,179.08" fill="none" stroke="#C0504D" stroke-width="1.3" stroke-linejoin="round"/>
<polyline points="167.88,206.80 189.62,197.89 211.38,196.57 233.12,154.66" fill="none" stroke="#9BBB59" stroke-width="1.3" stroke-linejoin="round"/>
<polyline points="167.88,206.80 189.62,200.20 211.38,192.28 233.12,169.84" fill="none" stroke="#8064A2" stroke-width="1.3" stroke-linejoin="round"/>
<path d="M167.88 204.00L170.68 206.80L167.88 209.60L165.07 206.80Z" fill="#4F81BD"/>
<path d="M189.62 198.06L192.43 200.86L189.62 203.66L186.82 200.86Z" fill="#4F81BD"/>
<path d="M211.38 186.51L214.18 189.31L211.38 192.11L208.57 189.31Z" fill="#4F81BD"/>
<path d="M233.12 147.90L235.93 150.70L233.12 153.50L230.32 150.70Z" fill="#4F81BD"/>
<rect x="165.68" y="204.27" width="4.40" height="4.40" fill="#C0504D"/>
<rect x="187.43" y="194.04" width="4.40" height="4.40" fill="#C0504D"/>
<rect x="209.18" y="194.04" width="4.40" height="4.40" fill="#C0504D"/>
<rect x="230.93" y="176.88" width="4.40" height="4.40" fill="#C0504D"/>
<path d="M167.88 204.00L170.68 209.04L165.07 209.04Z" fill="#9BBB59"/>
<path d="M189.62 195.09L192.43 200.13L186.82 200.13Z" fill="#9BBB59"/>
<path d="M211.38 193.77L214.18 198.81L208.57 198.81Z" fill="#9BBB59"/>
<path d="M233.12 151.86L235.93 156.90L230.32 156.90Z" fill="#9BBB59"/>
<line x1="165.57" y1="204.50" x2="170.18" y2="209.10" stroke="#8064A2" stroke-width="1.0"/>
<line x1="165.57" y1="209.10" x2="170.18" y2="204.50" stroke="#8064A2" stroke-width="1.0"/>
<line x1="187.32" y1="197.90" x2="191.93" y2="202.50" stroke="#8064A2" stroke-width="1.0"/>
<line x1="187.32" y1="202.50" x2="191.93" y2="197.90" stroke="#8064A2" stroke-width="1.0"/>
<line x1="209.07" y1="189.98" x2="213.68" y2="194.58" stroke="#8064A2" stroke-width="1.0"/>
<line x1="209.07" y1="194.58" x2="213.68" y2="189.98" stroke="#8064A2" stroke-width="1.0"/>
<line x1="230.82" y1="167.54" x2="235.43" y2="172.14" stroke="#8064A2" stroke-width="1.0"/>
<line x1="230.82" y1="172.14" x2="235.43" y2="167.54" stroke="#8064A2" stroke-width="1.0"/>
<text x="203.10" y="142.60" font-size="9.5" text-anchor="middle" textLength="14.30" lengthAdjust="spacingAndGlyphs">LY7</text>
<line x1="271.50" y1="191.67" x2="361.00" y2="191.67" stroke="#d4d4d4" stroke-width="0.9"/>
<line x1="271.50" y1="169.53" x2="361.00" y2="169.53" stroke="#d4d4d4" stroke-width="0.9"/>
<line x1="271.50" y1="147.40" x2="361.00" y2="147.40" stroke="#d4d4d4" stroke-width="0.9"/>
<line x1="269.00" y1="213.80" x2="271.50" y2="213.80" stroke="#a0a0a0" stroke-width="0.8"/>
<text x="264.90" y="216.10" font-size="6.5" text-anchor="end" font-weight="bold">0</text>
<line x1="269.00" y1="191.67" x2="271.50" y2="191.67" stroke="#a0a0a0" stroke-width="0.8"/>
<text x="264.90" y="193.97" font-size="6.5" text-anchor="end" font-weight="bold">5</text>
<line x1="269.00" y1="169.53" x2="271.50" y2="169.53" stroke="#a0a0a0" stroke-width="0.8"/>
<text x="264.90" y="171.83" font-size="6.5" text-anchor="end" font-weight="bold">10</text>
<line x1="269.00" y1="147.40" x2="271.50" y2="147.40" stroke="#a0a0a0" stroke-width="0.8"/>
<text x="264.90" y="149.70" font-size="6.5" text-anchor="end" font-weight="bold">15</text>
<line x1="271.50" y1="147.40" x2="271.50" y2="214.20" stroke="#a0a0a0" stroke-width="0.9"/>
<line x1="271.50" y1="213.80" x2="361.00" y2="213.80" stroke="#a0a0a0" stroke-width="0.9"/>
<line x1="271.50" y1="213.80" x2="271.50" y2="216.60" stroke="#a0a0a0" stroke-width="0.8"/>
<line x1="293.88" y1="213.80" x2="293.88" y2="216.60" stroke="#a0a0a0" stroke-width="0.8"/>
<line x1="316.25" y1="213.80" x2="316.25" y2="216.60" stroke="#a0a0a0" stroke-width="0.8"/>
<line x1="338.62" y1="213.80" x2="338.62" y2="216.60" stroke="#a0a0a0" stroke-width="0.8"/>
<line x1="361.00" y1="213.80" x2="361.00" y2="216.60" stroke="#a0a0a0" stroke-width="0.8"/>
<text x="282.69" y="226.00" font-size="6.3" text-anchor="middle" font-weight="bold">Day1</text>
<text x="305.06" y="226.00" font-size="6.3" text-anchor="middle" font-weight="bold">Day4</text>
<text x="327.44" y="226.00" font-size="6.3" text-anchor="middle" font-weight="bold">Day6</text>
<text x="349.81" y="226.00" font-size="6.3" text-anchor="middle" font-weight="bold">Day8</text>
<polyline points="282.69,209.37 305.06,201.85 327.44,191.67 349.81,162.89" fill="none" stroke="#4F81BD" stroke-width="1.3" stroke-linejoin="round"/>
<polyline points="282.69,209.37 305.06,201.85 327.44,200.96 349.81,177.06" fill="none" stroke="#C0504D" stroke-width="1.3" stroke-linejoin="round"/>
<polyline points="282.69,209.37 305.06,202.29 327.44,200.96 349.81,181.93" fill="none" stroke="#9BBB59" stroke-width="1.3" stroke-linejoin="round"/>
<polyline points="282.69,209.37 305.06,203.18 327.44,200.52 349.81,191.67" fill="none" stroke="#8064A2" stroke-width="1.3" stroke-linejoin="round"/>
<path d="M282.69 206.57L285.49 209.37L282.69 212.17L279.89 209.37Z" fill="#4F81BD"/>
<path d="M305.06 199.05L307.86 201.85L305.06 204.65L302.26 201.85Z" fill="#4F81BD"/>
<path d="M327.44 188.87L330.24 191.67L327.44 194.47L324.64 191.67Z" fill="#4F81BD"/>
<path d="M349.81 160.09L352.61 162.89L349.81 165.69L347.01 162.89Z" fill="#4F81BD"/>
<rect x="280.49" y="207.17" width="4.40" height="4.40" fill="#C0504D"/>
<rect x="302.86" y="199.65" width="4.40" height="4.40" fill="#C0504D"/>
<rect x="325.24" y="198.76" width="4.40" height="4.40" fill="#C0504D"/>
<rect x="347.61" y="174.86" width="4.40" height="4.40" fill="#C0504D"/>
<path d="M282.69 206.57L285.49 211.61L279.89 211.61Z" fill="#9BBB59"/>
<path d="M305.06 199.49L307.86 204.53L302.26 204.53Z" fill="#9BBB59"/>
<path d="M327.44 198.16L330.24 203.20L324.64 203.20Z" fill="#9BBB59"/>
<path d="M349.81 179.13L352.61 184.17L347.01 184.17Z" fill="#9BBB59"/>
<line x1="280.39" y1="207.07" x2="284.99" y2="211.67" stroke="#8064A2" stroke-width="1.0"/>
<line x1="280.39" y1="211.67" x2="284.99" y2="207.07" stroke="#8064A2" stroke-width="1.0"/>
<line x1="302.76" y1="200.88" x2="307.36" y2="205.48" stroke="#8064A2" stroke-width="1.0"/>
<line x1="302.76" y1="205.48" x2="307.36" y2="200.88" stroke="#8064A2" stroke-width="1.0"/>
<line x1="325.14" y1="198.22" x2="329.74" y2="202.82" stroke="#8064A2" stroke-width="1.0"/>
<line x1="325.14" y1="202.82" x2="329.74" y2="198.22" stroke="#8064A2" stroke-width="1.0"/>
<line x1="347.51" y1="189.37" x2="352.11" y2="193.97" stroke="#8064A2" stroke-width="1.0"/>
<line x1="347.51" y1="193.97" x2="352.11" y2="189.37" stroke="#8064A2" stroke-width="1.0"/>
<text x="323.50" y="142.60" font-size="9.5" text-anchor="middle" textLength="15.00" lengthAdjust="spacingAndGlyphs">LY8</text>
<line x1="395.50" y1="192.10" x2="478.00" y2="192.10" stroke="#d4d4d4" stroke-width="0.9"/>
<line x1="395.50" y1="170.20" x2="478.00" y2="170.20" stroke="#d4d4d4" stroke-width="0.9"/>
<line x1="395.50" y1="148.30" x2="478.00" y2="148.30" stroke="#d4d4d4" stroke-width="0.9"/>
<line x1="393.00" y1="214.00" x2="395.50" y2="214.00" stroke="#a0a0a0" stroke-width="0.8"/>
<text x="388.90" y="216.30" font-size="6.5" text-anchor="end" font-weight="bold">0</text>
<line x1="393.00" y1="192.10" x2="395.50" y2="192.10" stroke="#a0a0a0" stroke-width="0.8"/>
<text x="388.90" y="194.40" font-size="6.5" text-anchor="end" font-weight="bold">5</text>
<line x1="393.00" y1="170.20" x2="395.50" y2="170.20" stroke="#a0a0a0" stroke-width="0.8"/>
<text x="388.90" y="172.50" font-size="6.5" text-anchor="end" font-weight="bold">10</text>
<line x1="393.00" y1="148.30" x2="395.50" y2="148.30" stroke="#a0a0a0" stroke-width="0.8"/>
<text x="388.90" y="150.60" font-size="6.5" text-anchor="end" font-weight="bold">15</text>
<line x1="395.50" y1="148.30" x2="395.50" y2="214.40" stroke="#a0a0a0" stroke-width="0.9"/>
<line x1="395.50" y1="214.00" x2="478.00" y2="214.00" stroke="#a0a0a0" stroke-width="0.9"/>
<line x1="395.50" y1="214.00" x2="395.50" y2="216.80" stroke="#a0a0a0" stroke-width="0.8"/>
<line x1="416.12" y1="214.00" x2="416.12" y2="216.80" stroke="#a0a0a0" stroke-width="0.8"/>
<line x1="436.75" y1="214.00" x2="436.75" y2="216.80" stroke="#a0a0a0" stroke-width="0.8"/>
<line x1="457.38" y1="214.00" x2="457.38" y2="216.80" stroke="#a0a0a0" stroke-width="0.8"/>
<line x1="478.00" y1="214.00" x2="478.00" y2="216.80" stroke="#a0a0a0" stroke-width="0.8"/>
<text x="405.81" y="226.20" font-size="6.3" text-anchor="middle" font-weight="bold">Day1</text>
<text x="426.44" y="226.20" font-size="6.3" text-anchor="middle" font-weight="bold">Day4</text>
<text x="447.06" y="226.20" font-size="6.3" text-anchor="middle" font-weight="bold">Day6</text>
<text x="467.69" y="226.20" font-size="6.3" text-anchor="middle" font-weight="bold">Day8</text>
<polyline points="405.81,209.62 426.44,202.61 447.06,192.10 467.69,156.62" fill="none" stroke="#4F81BD" stroke-width="1.3" stroke-linejoin="round"/>
<polyline points="405.81,209.62 426.44,203.05 447.06,193.41 467.69,170.64" fill="none" stroke="#C0504D" stroke-width="1.3" stroke-linejoin="round"/>
<polyline points="405.81,209.62 426.44,204.36 447.06,187.72 467.69,165.82" fill="none" stroke="#9BBB59" stroke-width="1.3" stroke-linejoin="round"/>
<polyline points="405.81,209.62 426.44,203.05 447.06,193.85 467.69,168.89" fill="none" stroke="#8064A2" stroke-width="1.3" stroke-linejoin="round"/>
<path d="M405.81 206.82L408.61 209.62L405.81 212.42L403.01 209.62Z" fill="#4F81BD"/>
<path d="M426.44 199.81L429.24 202.61L426.44 205.41L423.64 202.61Z" fill="#4F81BD"/>
<path d="M447.06 189.30L449.86 192.10L447.06 194.90L444.26 192.10Z" fill="#4F81BD"/>
<path d="M467.69 153.82L470.49 156.62L467.69 159.42L464.89 156.62Z" fill="#4F81BD"/>
<rect x="403.61" y="207.42" width="4.40" height="4.40" fill="#C0504D"/>
<rect x="424.24" y="200.85" width="4.40" height="4.40" fill="#C0504D"/>
<rect x="444.86" y="191.21" width="4.40" height="4.40" fill="#C0504D"/>
<rect x="465.49" y="168.44" width="4.40" height="4.40" fill="#C0504D"/>
<path d="M405.81 206.82L408.61 211.86L403.01 211.86Z" fill="#9BBB59"/>
<path d="M426.44 201.56L429.24 206.60L423.64 206.60Z" fill="#9BBB59"/>
<path d="M447.06 184.92L449.86 189.96L444.26 189.96Z" fill="#9BBB59"/>
<path d="M467.69 163.02L470.49 168.06L464.89 168.06Z" fill="#9BBB59"/>
<line x1="403.51" y1="207.32" x2="408.11" y2="211.92" stroke="#8064A2" stroke-width="1.0"/>
<line x1="403.51" y1="211.92" x2="408.11" y2="207.32" stroke="#8064A2" stroke-width="1.0"/>
<line x1="424.14" y1="200.75" x2="428.74" y2="205.35" stroke="#8064A2" stroke-width="1.0"/>
<line x1="424.14" y1="205.35" x2="428.74" y2="200.75" stroke="#8064A2" stroke-width="1.0"/>
<line x1="444.76" y1="191.55" x2="449.36" y2="196.15" stroke="#8064A2" stroke-width="1.0"/>
<line x1="444.76" y1="196.15" x2="449.36" y2="191.55" stroke="#8064A2" stroke-width="1.0"/>
<line x1="465.39" y1="166.59" x2="469.99" y2="171.19" stroke="#8064A2" stroke-width="1.0"/>
<line x1="465.39" y1="171.19" x2="469.99" y2="166.59" stroke="#8064A2" stroke-width="1.0"/>
<text x="443.50" y="142.60" font-size="9.5" text-anchor="middle" textLength="20.40" lengthAdjust="spacingAndGlyphs">LY18</text>
<text x="19.20" y="176.50" font-size="7.9" text-anchor="middle" textLength="71.90" lengthAdjust="spacingAndGlyphs" transform="rotate(-90 19.20 176.50)" style="stroke-width:0.55px">Relative cell number</text>
<text x="1.00" y="142.00" font-size="11" text-anchor="start" font-weight="bold" fill="#000">B</text>
<line x1="474.30" y1="176.40" x2="488.60" y2="176.40" stroke="#4F81BD" stroke-width="1.1"/>
<path d="M481.60 174.02L483.98 176.40L481.60 178.78L479.22 176.40Z" fill="#4F81BD"/>
<text x="489.70" y="178.90" font-size="7" text-anchor="start" font-weight="bold" textLength="19.70" lengthAdjust="spacingAndGlyphs">shNon</text>
<line x1="474.30" y1="186.50" x2="488.60" y2="186.50" stroke="#C0504D" stroke-width="1.1"/>
<rect x="479.73" y="184.63" width="3.74" height="3.74" fill="#C0504D"/>
<text x="489.70" y="189.00" font-size="7" text-anchor="start" font-weight="bold" textLength="29.40" lengthAdjust="spacingAndGlyphs">STAT6sh2</text>
<line x1="474.30" y1="196.60" x2="488.60" y2="196.60" stroke="#9BBB59" stroke-width="1.1"/>
<path d="M481.60 194.22L483.98 198.50L479.22 198.50Z" fill="#9BBB59"/>
<text x="489.70" y="199.10" font-size="7" text-anchor="start" font-weight="bold" textLength="29.40" lengthAdjust="spacingAndGlyphs">STAT6sh4</text>
<line x1="474.30" y1="206.70" x2="488.60" y2="206.70" stroke="#8064A2" stroke-width="1.1"/>
<line x1="479.65" y1="204.74" x2="483.56" y2="208.66" stroke="#8064A2" stroke-width="1.0"/>
<line x1="479.65" y1="208.66" x2="483.56" y2="204.74" stroke="#8064A2" stroke-width="1.0"/>
<text x="489.70" y="209.20" font-size="7" text-anchor="start" font-weight="bold" textLength="29.40" lengthAdjust="spacingAndGlyphs">STAT6sh5</text>
<text x="0.80" y="247.80" font-size="11" text-anchor="start" font-weight="bold" fill="#000">C</text>
<text x="87.90" y="248.80" font-size="9.5" text-anchor="middle" textLength="14.20" lengthAdjust="spacingAndGlyphs">LY1</text>
<rect x="60.70" y="289.90" width="67.50" height="28.30" fill="#a0a0a0"/>
<rect x="60.70" y="320.90" width="67.50" height="19.60" fill="#a0a0a0"/>
<text x="73.00" y="288.90" font-size="8.6" text-anchor="start" font-weight="bold" textLength="22.20" lengthAdjust="spacingAndGlyphs" transform="rotate(-90 73.00 288.90)">shNon</text>
<text x="90.60" y="288.90" font-size="8.6" text-anchor="start" font-weight="bold" textLength="35.30" lengthAdjust="spacingAndGlyphs" transform="rotate(-90 90.60 288.90)">STAT6-sh2</text>
<text x="106.90" y="288.90" font-size="8.6" text-anchor="start" font-weight="bold" textLength="35.30" lengthAdjust="spacingAndGlyphs" transform="rotate(-90 106.90 288.90)">STAT6-sh4</text>
<text x="119.70" y="288.90" font-size="8.6" text-anchor="start" font-weight="bold" textLength="35.30" lengthAdjust="spacingAndGlyphs" transform="rotate(-90 119.70 288.90)">STAT6-sh5</text>
<rect x="62.90" y="302.60" width="15.10" height="3.20" rx="1.60" fill="#323232" filter="url(#bl)"/>
<rect x="80.40" y="303.70" width="14.50" height="2.60" rx="1.30" fill="#3d3d3d" filter="url(#bl)"/>
<rect x="97.40" y="303.20" width="15.30" height="2.80" rx="1.40" fill="#3b3b3b" filter="url(#bl)"/>
<rect x="115.30" y="303.00" width="12.80" height="2.80" rx="1.40" fill="#3b3b3b" filter="url(#bl)"/>
<rect x="63.00" y="331.95" width="13.50" height="2.70" rx="1.35" fill="#363636" filter="url(#bl)"/>
<rect x="79.20" y="331.55" width="13.00" height="2.50" rx="1.25" fill="#3b3b3b" filter="url(#bl)"/>
<rect x="95.70" y="330.40" width="12.60" height="2.40" rx="1.20" fill="#404040" filter="url(#bl)"/>
<rect x="111.40" y="330.00" width="13.60" height="2.20" rx="1.10" fill="#505050" filter="url(#bl)"/>
<text x="68.50" y="349.40" font-size="6.5" text-anchor="middle" font-weight="bold">1</text>
<text x="83.50" y="349.40" font-size="6.5" text-anchor="middle" font-weight="bold">0.18</text>
<text x="101.30" y="349.40" font-size="6.5" text-anchor="middle" font-weight="bold">0.21</text>
<text x="117.50" y="349.40" font-size="6.5" text-anchor="middle" font-weight="bold">0.15</text>
<path d="M61 324L63.6 326.2L61 327Z" fill="#111"/>
<text x="203.30" y="248.80" font-size="9.5" text-anchor="middle" textLength="14.50" lengthAdjust="spacingAndGlyphs">LY7</text>
<rect x="174.50" y="289.90" width="62.20" height="28.30" fill="#a0a0a0"/>
<rect x="174.50" y="320.90" width="62.20" height="19.60" fill="#a0a0a0"/>
<text x="185.90" y="288.90" font-size="8.6" text-anchor="start" font-weight="bold" textLength="22.20" lengthAdjust="spacingAndGlyphs" transform="rotate(-90 185.90 288.90)">shNon</text>
<text x="199.60" y="288.90" font-size="8.6" text-anchor="start" font-weight="bold" textLength="35.30" lengthAdjust="spacingAndGlyphs" transform="rotate(-90 199.60 288.90)">STAT6-sh2</text>
<text x="217.20" y="288.90" font-size="8.6" text-anchor="start" font-weight="bold" textLength="35.30" lengthAdjust="spacingAndGlyphs" transform="rotate(-90 217.20 288.90)">STAT6-sh4</text>
<text x="233.60" y="288.90" font-size="8.6" text-anchor="start" font-weight="bold" textLength="35.30" lengthAdjust="spacingAndGlyphs" transform="rotate(-90 233.60 288.90)">STAT6-sh5</text>
<rect x="176.30" y="305.70" width="14.90" height="3.80" rx="1.90" fill="#323232" filter="url(#bl)"/>
<rect x="192.50" y="305.80" width="12.90" height="2.60" rx="1.30" fill="#484848" filter="url(#bl)"/>
<rect x="207.70" y="305.25" width="14.60" height="2.50" rx="1.25" fill="#4f4f4f" filter="url(#bl)"/>
<rect x="227.70" y="304.60" width="7.90" height="2.60" rx="1.30" fill="#4b4b4b" filter="url(#bl)"/>
<rect x="175.90" y="331.80" width="12.40" height="2.80" rx="1.40" fill="#363636" filter="url(#bl)"/>
<rect x="190.30" y="331.90" width="13.10" height="2.80" rx="1.40" fill="#363636" filter="url(#bl)"/>
<rect x="205.70" y="331.50" width="12.70" height="2.80" rx="1.40" fill="#383838" filter="url(#bl)"/>
<rect x="221.00" y="332.20" width="15.40" height="2.80" rx="1.40" fill="#343434" filter="url(#bl)"/>
<text x="180.30" y="349.40" font-size="6.5" text-anchor="middle" font-weight="bold">1</text>
<text x="195.20" y="349.40" font-size="6.5" text-anchor="middle" font-weight="bold">0.64</text>
<text x="211.20" y="349.40" font-size="6.5" text-anchor="middle" font-weight="bold">0.7</text>
<text x="227.20" y="349.40" font-size="6.5" text-anchor="middle" font-weight="bold">0.61</text>
<ellipse cx="175.6" cy="309.3" rx="1.2" ry="1.3" fill="#222" filter="url(#bl)"/>
<path d="M174.5 315.2Q177.8 316.5 178 318.2L174.5 318.2Z" fill="#111"/>
<text x="323.10" y="248.80" font-size="9.5" text-anchor="middle" textLength="14.50" lengthAdjust="spacingAndGlyphs">LY8</text>
<rect x="291.70" y="289.90" width="63.10" height="28.30" fill="#a0a0a0"/>
<rect x="291.70" y="320.90" width="63.10" height="19.60" fill="#a0a0a0"/>
<text x="303.40" y="288.90" font-size="8.6" text-anchor="start" font-weight="bold" textLength="22.20" lengthAdjust="spacingAndGlyphs" transform="rotate(-90 303.40 288.90)">shNon</text>
<text x="317.80" y="288.90" font-size="8.6" text-anchor="start" font-weight="bold" textLength="35.30" lengthAdjust="spacingAndGlyphs" transform="rotate(-90 317.80 288.90)">STAT6-sh2</text>
<text x="333.20" y="288.90" font-size="8.6" text-anchor="start" font-weight="bold" textLength="35.30" lengthAdjust="spacingAndGlyphs" transform="rotate(-90 333.20 288.90)">STAT6-sh4</text>
<text x="348.20" y="288.90" font-size="8.6" text-anchor="start" font-weight="bold" textLength="35.30" lengthAdjust="spacingAndGlyphs" transform="rotate(-90 348.20 288.90)">STAT6-sh5</text>
<rect x="293.50" y="303.95" width="14.20" height="3.30" rx="1.65" fill="#2e2e2e" filter="url(#bl)"/>
<rect x="309.80" y="304.50" width="12.80" height="2.40" rx="1.20" fill="#3b3b3b" filter="url(#bl)"/>
<rect x="325.10" y="303.95" width="13.50" height="2.70" rx="1.35" fill="#363636" filter="url(#bl)"/>
<rect x="341.20" y="303.65" width="13.40" height="2.70" rx="1.35" fill="#363636" filter="url(#bl)"/>
<rect x="292.70" y="331.40" width="12.10" height="2.80" rx="1.40" fill="#363636" filter="url(#bl)"/>
<rect x="306.80" y="331.60" width="13.50" height="2.80" rx="1.40" fill="#363636" filter="url(#bl)"/>
<rect x="323.00" y="331.40" width="12.80" height="2.80" rx="1.40" fill="#363636" filter="url(#bl)"/>
<rect x="338.50" y="330.50" width="13.50" height="3.00" rx="1.50" fill="#323232" filter="url(#bl)"/>
<text x="297.20" y="349.40" font-size="6.5" text-anchor="middle" font-weight="bold">1</text>
<text x="312.00" y="349.40" font-size="6.5" text-anchor="middle" font-weight="bold">0.21</text>
<text x="329.80" y="349.40" font-size="6.5" text-anchor="middle" font-weight="bold">0.34</text>
<text x="345.90" y="349.40" font-size="6.5" text-anchor="middle" font-weight="bold">0.33</text>
<path d="M350 331.2Q353 331 354.6 333.4" stroke="#2a2a2a" stroke-width="2" fill="none" filter="url(#bl)"/>
<text x="444.00" y="248.80" font-size="9.5" text-anchor="middle" textLength="20.20" lengthAdjust="spacingAndGlyphs">LY18</text>
<rect x="412.90" y="289.90" width="63.70" height="28.30" fill="#a0a0a0"/>
<rect x="412.90" y="320.90" width="63.70" height="19.60" fill="#a0a0a0"/>
<text x="422.20" y="288.90" font-size="8.6" text-anchor="start" font-weight="bold" textLength="22.20" lengthAdjust="spacingAndGlyphs" transform="rotate(-90 422.20 288.90)">shNon</text>
<text x="437.90" y="288.90" font-size="8.6" text-anchor="start" font-weight="bold" textLength="35.30" lengthAdjust="spacingAndGlyphs" transform="rotate(-90 437.90 288.90)">STAT6-sh2</text>
<text x="455.70" y="288.90" font-size="8.6" text-anchor="start" font-weight="bold" textLength="35.30" lengthAdjust="spacingAndGlyphs" transform="rotate(-90 455.70 288.90)">STAT6-sh4</text>
<text x="472.40" y="288.90" font-size="8.6" text-anchor="start" font-weight="bold" textLength="35.30" lengthAdjust="spacingAndGlyphs" transform="rotate(-90 472.40 288.90)">STAT6-sh5</text>
<rect x="414.30" y="305.35" width="14.40" height="2.90" rx="1.45" fill="#323232" filter="url(#bl)"/>
<rect x="430.80" y="305.45" width="12.40" height="2.70" rx="1.35" fill="#383838" filter="url(#bl)"/>
<rect x="445.70" y="305.45" width="12.70" height="2.70" rx="1.35" fill="#383838" filter="url(#bl)"/>
<rect x="461.00" y="305.65" width="11.70" height="2.30" rx="1.15" fill="#505050" filter="url(#bl)"/>
<rect x="415.40" y="331.05" width="11.40" height="2.70" rx="1.35" fill="#363636" filter="url(#bl)"/>
<rect x="429.90" y="330.85" width="11.70" height="2.50" rx="1.25" fill="#3b3b3b" filter="url(#bl)"/>
<rect x="444.30" y="330.80" width="12.80" height="2.60" rx="1.30" fill="#383838" filter="url(#bl)"/>
<rect x="459.10" y="329.60" width="12.80" height="2.80" rx="1.40" fill="#323232" filter="url(#bl)"/>
<text x="419.90" y="349.40" font-size="6.5" text-anchor="middle" font-weight="bold">1</text>
<text x="434.20" y="349.40" font-size="6.5" text-anchor="middle" font-weight="bold">0.51</text>
<text x="450.90" y="349.40" font-size="6.5" text-anchor="middle" font-weight="bold">0.34</text>
<text x="466.60" y="349.40" font-size="6.5" text-anchor="middle" font-weight="bold">0.17</text>
<ellipse cx="475.2" cy="306.8" rx="1.3" ry="1.3" fill="#222" filter="url(#bl)"/>
<ellipse cx="475.2" cy="331.4" rx="1.3" ry="1.2" fill="#222" filter="url(#bl)"/>
<text x="57.30" y="309.20" font-size="8.2" text-anchor="end" font-weight="bold" textLength="38.20" lengthAdjust="spacingAndGlyphs">Anti-STAT6</text>
<text x="57.30" y="330.60" font-size="8.2" text-anchor="end" font-weight="bold" textLength="35.10" lengthAdjust="spacingAndGlyphs">Anti-Actin</text>
<text x="57.30" y="347.90" font-size="8.2" text-anchor="end" font-weight="bold" textLength="42.00" lengthAdjust="spacingAndGlyphs">STAT6/Actin</text>
</svg></body></html>
